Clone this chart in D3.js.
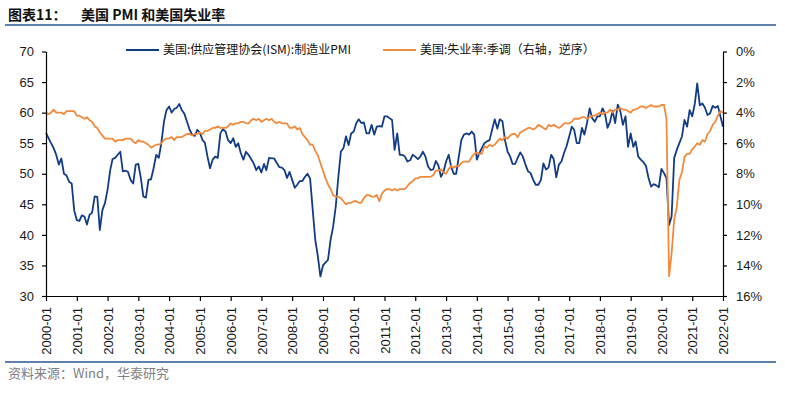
<!DOCTYPE html>
<html>
<head>
<meta charset="utf-8">
<script src="https://cdn.jsdelivr.net/npm/d3@7"></script>
<style>
  body { margin: 0; background: #fff; }
  svg { display: block; font-family: "Liberation Sans", Arial, "Noto Sans CJK SC", sans-serif; }
</style>
</head>
<body>
<div id="chart"></div>
<script>
// monthly series, 2000-01 .. 2022-01
const startMonth = '2000-01';
const endMonth = '2022-01';

// 美国:供应管理协会(ISM):制造业PMI
const pmiValues = [
    56.7, 55.8, 55.0, 54.2, 53.1, 51.5, 52.5, 50.0, 49.7, 48.7, 48.4, 44.0, // 2000
    42.4, 42.3, 43.2, 43.0, 41.7, 43.3, 43.6, 46.3, 46.2, 40.8, 44.1, 45.2, // 2001
    47.4, 50.6, 52.4, 52.6, 53.1, 53.6, 50.4, 50.5, 50.3, 49.0, 48.4, 51.5, // 2002
    51.6, 49.2, 46.3, 46.1, 49.0, 49.1, 50.9, 53.1, 52.6, 55.0, 58.5, 60.4, // 2003
    61.0, 60.0, 60.6, 60.8, 61.4, 60.4, 59.8, 58.5, 57.2, 56.4, 56.2, 57.2, // 2004
    56.7, 55.5, 55.1, 52.8, 50.9, 52.3, 52.8, 52.6, 56.6, 57.3, 56.9, 55.5, // 2005
    55.0, 55.8, 54.4, 55.0, 53.4, 52.3, 53.6, 53.1, 52.4, 51.7, 50.6, 51.2, // 2006
    50.2, 51.6, 50.6, 52.6, 52.5, 52.5, 51.8, 51.1, 51.0, 50.6, 49.3, 50.3, // 2007
    49.0, 47.7, 48.2, 48.8, 48.8, 49.5, 50.0, 49.2, 44.1, 39.2, 36.5, 33.2, // 2008
    35.0, 35.5, 35.9, 39.2, 41.3, 44.6, 49.3, 53.6, 54.2, 56.1, 54.7, 56.6, // 2009
    56.9, 58.3, 58.9, 58.3, 58.4, 56.6, 56.6, 58.0, 56.4, 57.7, 57.8, 57.7, // 2010
    59.4, 59.4, 59.1, 58.8, 53.9, 56.6, 53.1, 53.1, 52.8, 52.0, 52.2, 53.1, // 2011
    52.8, 52.4, 52.8, 53.6, 52.8, 51.2, 50.6, 50.7, 52.1, 51.4, 49.5, 50.3, // 2012
    52.0, 53.1, 51.2, 50.0, 50.0, 52.8, 55.5, 56.4, 56.6, 56.4, 56.9, 56.4, // 2013
    52.3, 53.4, 54.2, 55.0, 55.3, 55.5, 57.2, 58.9, 57.4, 58.9, 58.6, 55.5, // 2014
    53.6, 52.8, 51.6, 51.6, 52.6, 53.5, 52.8, 51.5, 50.4, 50.1, 49.0, 48.2, // 2015
    48.2, 49.0, 51.7, 50.7, 51.0, 53.1, 52.4, 49.4, 51.5, 52.0, 53.4, 54.5, // 2016
    56.1, 57.7, 57.2, 55.0, 55.0, 57.5, 56.4, 58.3, 60.7, 59.1, 58.5, 59.4, // 2017
    59.4, 60.7, 59.9, 57.5, 58.5, 60.3, 58.3, 61.3, 60.2, 58.0, 59.4, 54.4, // 2018
    56.6, 54.4, 55.3, 52.8, 52.3, 51.9, 51.3, 49.3, 47.9, 48.3, 48.1, 47.8, // 2019
    50.8, 50.1, 49.3, 41.6, 43.0, 52.6, 53.9, 55.0, 56.1, 58.8, 57.7, 60.4, // 2020
    59.4, 61.5, 64.8, 61.2, 61.5, 60.8, 59.6, 59.9, 61.1, 60.8, 61.1, 59.4, // 2021
    57.7                                                                    // 2022
];

// 美国:失业率:季调 (%)
const unemploymentValues = [
    4.0, 4.1, 4.0, 3.8, 4.0, 4.0, 4.0, 4.1, 3.9, 3.9, 3.9, 3.9,
    4.2, 4.2, 4.3, 4.4, 4.3, 4.5, 4.6, 4.9, 5.0, 5.3, 5.5, 5.7,
    5.7, 5.7, 5.7, 5.9, 5.8, 5.8, 5.8, 5.7, 5.7, 5.7, 5.9, 6.0,
    5.8, 5.9, 5.9, 6.0, 6.1, 6.3, 6.2, 6.1, 6.1, 6.0, 5.8, 5.7,
    5.7, 5.6, 5.8, 5.6, 5.6, 5.6, 5.5, 5.4, 5.4, 5.5, 5.4, 5.4,
    5.3, 5.4, 5.2, 5.2, 5.1, 5.0, 5.0, 4.9, 5.0, 5.0, 5.0, 4.9,
    4.7, 4.8, 4.7, 4.7, 4.6, 4.6, 4.7, 4.7, 4.5, 4.4, 4.5, 4.4,
    4.6, 4.5, 4.4, 4.5, 4.4, 4.6, 4.7, 4.6, 4.7, 4.7, 4.7, 5.0,
    5.0, 4.9, 5.1, 5.0, 5.4, 5.6, 5.8, 6.1, 6.1, 6.5, 6.8, 7.3,
    7.8, 8.3, 8.7, 9.0, 9.4, 9.5, 9.5, 9.6, 9.8, 10.0, 9.9, 9.9,
    9.8, 9.8, 9.9, 9.9, 9.6, 9.4, 9.4, 9.5, 9.5, 9.4, 9.8, 9.3,
    9.1, 9.0, 9.0, 9.1, 9.0, 9.1, 9.0, 9.0, 9.0, 8.8, 8.6, 8.5,
    8.3, 8.3, 8.2, 8.2, 8.2, 8.2, 8.2, 8.1, 7.8, 7.8, 7.7, 7.9,
    8.0, 7.7, 7.5, 7.6, 7.5, 7.5, 7.3, 7.2, 7.2, 7.2, 6.9, 6.7,
    6.6, 6.7, 6.7, 6.2, 6.3, 6.1, 6.2, 6.1, 5.9, 5.7, 5.8, 5.6,
    5.7, 5.5, 5.4, 5.4, 5.6, 5.3, 5.2, 5.1, 5.0, 5.0, 5.1, 5.0,
    4.8, 4.9, 5.0, 5.1, 4.8, 4.9, 4.8, 4.9, 5.0, 4.9, 4.7, 4.7,
    4.7, 4.6, 4.4, 4.4, 4.4, 4.3, 4.3, 4.4, 4.3, 4.2, 4.2, 4.1,
    4.0, 4.1, 4.0, 4.0, 3.8, 4.0, 3.8, 3.8, 3.7, 3.8, 3.8, 3.9,
    4.0, 3.8, 3.8, 3.7, 3.6, 3.6, 3.7, 3.6, 3.5, 3.6, 3.6, 3.6,
    3.5, 3.5, 4.4, 14.7, 13.2, 11.0, 10.2, 8.4, 7.9, 6.9, 6.7, 6.7,
    6.4, 6.2, 6.0, 6.1, 5.8, 5.9, 5.4, 5.2, 4.8, 4.6, 4.2, 3.9,
    4.0
];

const leftTicks = [30, 35, 40, 45, 50, 55, 60, 65, 70];
const rightTicks = [0, 2, 4, 6, 8, 10, 12, 14, 16];
const titleLabel = '图表11：';
const titleText = '美国 PMI 和美国失业率';
const pmiName = '美国:供应管理协会(ISM):制造业PMI';
const unempName = '美国:失业率:季调（右轴，逆序）';
const sourceText = '资料来源：Wind，华泰研究';

const width = 785, height = 395;
const plot = { left: 46, right: 723, top: 51.5, bottom: 296 };
const blue = '#123c82', orange = '#f08a3c', rule = '#5f80ac';

const parseMonth = d3.timeParse('%Y-%m');
const months = d3.timeMonth.range(parseMonth(startMonth), d3.timeMonth.offset(parseMonth(endMonth), 1));
const pmiData = months.map((date, i) => ({ date, value: pmiValues[i] }));
const unempData = months.map((date, i) => ({ date, value: unemploymentValues[i] }));

const svg = d3.select('#chart').append('svg').attr('width', width).attr('height', height);

// Scales
const x = d3.scaleTime([parseMonth(startMonth), parseMonth(endMonth)], [plot.left, plot.right]);
const yLeft = d3.scaleLinear([30, 70], [plot.bottom, plot.top]);
const yRight = d3.scaleLinear([0, 16], [plot.top, plot.bottom]);

// Title + rules
svg.append('text').attr('x', 8).attr('y', 20).attr('font-size', 14).attr('font-weight', 'bold')
    .attr('fill', '#111').attr('font-family', '"Noto Sans CJK SC", sans-serif').text(titleLabel);
svg.append('text').attr('x', 81).attr('y', 20).attr('font-size', 14).attr('font-weight', 'bold')
    .attr('fill', '#111').attr('font-family', '"Noto Sans CJK SC", sans-serif').text(titleText);
svg.append('line').attr('x1', 5).attr('x2', 776).attr('y1', 25).attr('y2', 25)
    .attr('stroke', rule).attr('stroke-width', 2.2);
svg.append('line').attr('x1', 5).attr('x2', 776).attr('y1', 362).attr('y2', 362)
    .attr('stroke', rule).attr('stroke-width', 2.2);

// Lines
const lineLeft = d3.line().x(d => x(d.date)).y(d => yLeft(d.value));
const lineRight = d3.line().x(d => x(d.date)).y(d => yRight(d.value));
svg.append('path').datum(pmiData).attr('fill', 'none').attr('stroke', blue)
    .attr('stroke-width', 1.8).attr('stroke-linejoin', 'round').attr('d', lineLeft);
svg.append('path').datum(unempData).attr('fill', 'none').attr('stroke', orange)
    .attr('stroke-width', 1.8).attr('stroke-linejoin', 'round').attr('d', lineRight);

// Axes
const styleAxis = g => {
    g.select('.domain').attr('stroke', '#000').attr('stroke-width', 1.2);
    g.selectAll('.tick line').attr('stroke', '#000').attr('stroke-width', 1.2);
    g.selectAll('.tick text').attr('fill', '#1a1a1a').attr('font-size', 13)
        .attr('font-family', '"Liberation Sans", Arial, sans-serif');
};
svg.append('g').attr('transform', `translate(${plot.left},0)`)
    .call(d3.axisLeft(yLeft).tickValues(leftTicks).tickSize(4).tickSizeOuter(0).tickPadding(8))
    .call(styleAxis);
svg.append('g').attr('transform', `translate(${plot.right},0)`)
    .call(d3.axisRight(yRight).tickValues(rightTicks).tickSize(4).tickSizeOuter(0).tickPadding(9)
        .tickFormat(d => d + '%'))
    .call(styleAxis);
svg.append('g').attr('transform', `translate(0,${plot.bottom})`)
    .call(d3.axisBottom(x).ticks(d3.timeYear.every(1)).tickFormat(d3.timeFormat('%Y-%m'))
        .tickSize(5).tickSizeOuter(0))
    .call(styleAxis)
    .call(g => g.selectAll('.tick text')
        .attr('transform', 'rotate(-90)')
        .attr('text-anchor', 'end')
        .attr('x', -11).attr('y', 0).attr('dy', '0.36em'));

// Legend
const legend = [
    { name: pmiName, color: blue, x: 126 },
    { name: unempName, color: orange, x: 383 }
];
const lg = svg.append('g').selectAll('g').data(legend).join('g')
    .attr('transform', d => `translate(${d.x},50)`);
lg.append('line').attr('x1', 0).attr('x2', 33).attr('stroke', d => d.color).attr('stroke-width', 2);
lg.append('text').attr('x', 37).attr('dy', '0.36em').attr('font-size', 12).attr('fill', '#111')
    .attr('font-family', '"Noto Sans CJK SC", sans-serif')
    .text(d => d.name);

// Source
svg.append('text').attr('x', 8).attr('y', 378).attr('font-size', 13).attr('fill', '#808080')
    .attr('font-family', '"Noto Sans CJK SC", sans-serif').text(sourceText);
</script>
</body>
</html>
